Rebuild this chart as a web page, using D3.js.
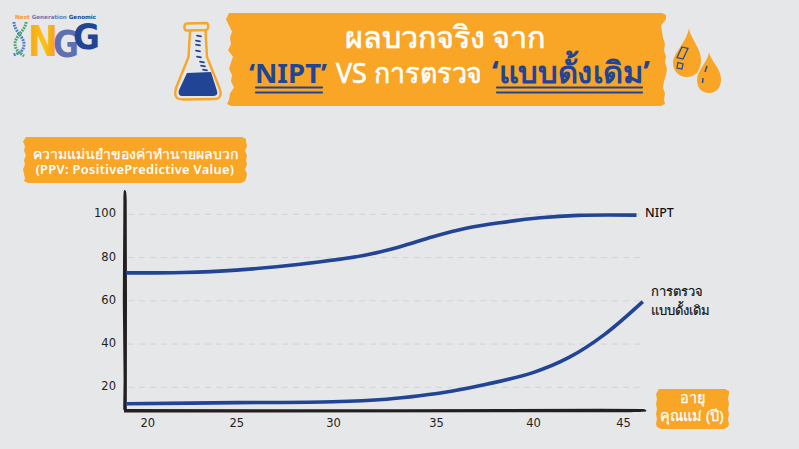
<!DOCTYPE html>
<html><head><meta charset="utf-8">
<script src="https://cdn.jsdelivr.net/npm/d3@7/dist/d3.min.js"></script>
<style>html,body{margin:0;background:#e6e7e9}svg{display:block}text{font-family:"Noto Sans",sans-serif}</style>
</head><body><svg id="c" width="799" height="449" xmlns="http://www.w3.org/2000/svg"></svg>
<script>
const xTicks=[20,25,30,35,40,45];
const yTicks=[20,40,60,80,100];
const agesNipt=[18.8,22,25,28.3,31.6,33.25,34.85,36.55,38.3,40.4,42.5,45.75];
const valuesNipt=[72.9,73.1,74.2,76.9,81.2,85,89.6,93.5,96.1,98.4,99.5,99.6];
const agesTrad=[18.8,25,30,32.6,34.2,35.85,37.6,40,42,44,46.1];
const valuesTrad=[12.4,12.9,13.3,14.5,16.1,18.3,21.4,26.8,33.8,44.6,59.6];
const seriesLabelA="NIPT";
const seriesLabelB=["การตรวจ","แบบดั้งเดิม"];
const yTitle=["ความแม่นยำของค่าทำนายผลบวก","(PPV: PositivePredictive Value)"];
const xTitle=["อายุ","คุณแม่ (ปี)"];
const orange="#f9a526",blue="#214594",ink="#231f20",grid="#d3d4d6";

const svg=d3.select("#c");
svg.append("rect").attr("width",799).attr("height",449).attr("fill","#e6e7e9");
const x=d3.scaleLinear().domain(xTicks).range([147.3,236.3,333,436,533,623]);
const y=d3.scaleLinear().domain([20,100]).range([387.3,214.3]);
const line=d3.line().x(d=>x(d[0])).y(d=>y(d[1])).curve(d3.curveCatmullRom.alpha(.5));

function banner(x0,y0,x1,y1,left,right){
  const h=y1-y0;
  let p=`M${x0+3},${y0}L${x1-4},${y0}L${x1},${y0+2}`;
  right.forEach((o,i)=>{p+=`L${x1+o},${y0+h*(i+1)/(right.length+1)}`});
  p+=`L${x1-1},${y1-2}L${x1-5},${y1}L${x0+5},${y1}L${x0+1},${y1-2}`;
  left.slice().reverse().forEach((o,i)=>{p+=`L${x0+o},${y1-h*(i+1)/(left.length+1)}`});
  return svg.append("path").attr("d",p+"Z").attr("fill",orange);
}
banner(226,13,666,106,[0,3,6,4,5,2,7,5,3,6,5,8,4,3],[0,-5,-4,-3,-1,-2,0,-1,1,0,-2,-3,-1,-2]);
banner(23,137,246,183,[0,2,1,3,1,2,0,1,2],[0,1,-1,1,0,1,-1,1,0]);
banner(656,389,729,429,[0,1,0,1,0,1,0],[0,-1,0,-1,0,-1,0]);

function t(s,xp,yp,size,fill,opt={}){
  const e=svg.append("text").attr("x",xp).attr("y",yp).attr("font-size",size).attr("fill",fill)
   .attr("text-anchor",opt.anchor||"start").attr("font-weight",opt.weight||400).text(s);
  if(opt.thick)e.attr("stroke",fill).attr("stroke-width",opt.thick);
  if(opt.len)e.attr("textLength",opt.len).attr("lengthAdjust","spacingAndGlyphs");
  return e;
}
t("ผลบวกจริง จาก",445,48,30.5,"#fff",{anchor:"middle",thick:.7});
t("‘NIPT’",249,83,27.5,blue,{weight:700,len:78});
t("VS การตรวจ",336,83,27.5,"#fff",{thick:.6,len:146});
t("‘แบบดั้งเดิม’",492,83,30,blue,{weight:700,len:158});
[[256,322],[497,642]].forEach(([a,b])=>{
  [87.5,92.5].forEach(yy=>svg.append("line").attr("x1",a).attr("x2",b).attr("y1",yy).attr("y2",yy)
    .attr("stroke",blue).attr("stroke-width",2.2).attr("stroke-linecap","round"));
});

t(yTitle[0],135,159,14,"#fff",{anchor:"middle",thick:.25});
t(yTitle[1],135,174,12.8,"#fff",{anchor:"middle",weight:600}).attr("letter-spacing",.35);
t(xTitle[0],692,403,14.5,"#fff",{anchor:"middle",thick:.25});
t(xTitle[1],692,421,14.5,"#fff",{anchor:"middle",thick:.25});

svg.append("g").selectAll("line").data(yTicks).join("line")
 .attr("x1",128).attr("x2",640).attr("y1",d=>y(d)).attr("y2",d=>y(d))
 .attr("stroke",grid).attr("stroke-width",1).attr("stroke-dasharray","6 5");

const ay=svg.append("g").attr("transform","translate(125,-1)").call(d3.axisLeft(y).tickValues(yTicks).tickSize(0).tickPadding(9));
const ax=svg.append("g").attr("transform","translate(0,411)").call(d3.axisBottom(x).tickValues(xTicks).tickSize(0).tickPadding(8));
[ay,ax].forEach(a=>{a.select(".domain").remove();a.selectAll("text").attr("fill",ink).attr("font-size",11.5).style("font-family","'DejaVu Sans',sans-serif")});
svg.append("path").attr("fill",ink).attr("d","M124.5,190C126,190 126.5,192 126.7,200L127,300L126.8,409L124.8,412L123.2,409L123.6,380L122.8,300L123.4,200C123.5,194 123.6,190 124.5,190Z");
svg.append("path").attr("fill",ink).attr("d","M124,409L400,409.3L600,408.8L643,409C646,409.6 647,410.5 646,411.4C640,412.4 600,412.4 500,412.2L124,412.6Z");

[[agesNipt,valuesNipt],[agesTrad,valuesTrad]].forEach(([a,v])=>{
  svg.append("path").datum(a.map((d,i)=>[d,v[i]])).attr("d",line).attr("fill","none")
   .attr("stroke",blue).attr("stroke-width",3.6);
});
t(seriesLabelA,645,217,12.5,"#111",{weight:500});
t(seriesLabelB[0],651,296,13,"#111",{thick:.2});
t(seriesLabelB[1],651,315,13,"#111",{thick:.2});

const flask=svg.append("g");
flask.append("path").attr("d","M187,23.5L206,23C209,23 209,29.5 206,30L187,30.5C183.5,30.5 183.5,23.5 187,23.5Z").attr("fill","none").attr("stroke",orange).attr("stroke-width",2.4);
flask.append("path").attr("d","M190,31L188.5,57L176,88C174,96 176,99.5 183,99.5L214,99C221,99 222,94 219,87L207,57L205.5,31").attr("fill","none").attr("stroke",orange).attr("stroke-width",2.4).attr("stroke-linejoin","round");
flask.append("path").attr("d","M187,73L211,72L217,91C218,95 216,96 212,96L183,96C179,96 178,94 179,90Z").attr("fill",blue);
[[199,36],[198,41],[198,45],[198,51],[199,57],[202,62],[203,66],[205,70]].forEach(p=>{
  flask.append("line").attr("x1",p[0]-2).attr("x2",p[0]+2).attr("y1",p[1]-.3).attr("y2",p[1]+.4).attr("stroke",blue).attr("stroke-width",1.7).attr("stroke-linecap","round");
});

svg.append("path").attr("fill",orange).attr("d","M689,28C690,38 701,48 701,60C701,71 695,77 687,77C679,77 673,71 673,63C673,53 687,42 689,28Z");
svg.append("path").attr("fill",orange).attr("d","M709,52C710,60 721,68 721,79C721,88 716,93 709,93C702,93 697,88 697,80C697,70 708,62 709,52Z");
svg.append("path").attr("fill","none").attr("stroke",blue).attr("stroke-width",1.2).attr("d","M682,47L688,48.5L683,59L677,57.5ZM678,62.5L683,64L682,69L677,68Z");
svg.append("path").attr("fill","none").attr("stroke",blue).attr("stroke-width",1.4).attr("d","M707,66L705,72M703,78L702.5,83");

const defs=svg.append("defs");
const gr=defs.append("linearGradient").attr("id","ng").attr("x1",0).attr("x2",1).attr("y1",0).attr("y2",0);
gr.append("stop").attr("offset","0").attr("stop-color","#f7a11f");
gr.append("stop").attr("offset",".5").attr("stop-color","#fcc30f");
gr.append("stop").attr("offset","1").attr("stop-color","#f59a23");
const logo=svg.append("g");
const head=svg.append("text").attr("x",15).attr("y",19).attr("font-size",5.6).attr("font-weight",700).style("font-family","'DejaVu Sans',sans-serif");
[["Next ","#f39a2e"],["Generation ","#6a78b5"],["Genomic","#214594"]].forEach(d=>head.append("tspan").attr("fill",d[1]).text(d[0]));
function big(s,xp,yp,size,fill,len){return svg.append("text").attr("x",xp).attr("y",yp).attr("font-size",size).attr("font-weight",700).attr("fill",fill).attr("textLength",len).attr("lengthAdjust","spacingAndGlyphs").style("font-family","'DejaVu Sans',sans-serif").text(s);}
big("N",28,56,42,"url(#ng)",30);
big("G",53,57,37,"#5f6fb0",26);
big("G",73,49,36,blue,27);
logo.raise();
logo.append("path").attr("fill","none").attr("stroke","#4d7fc4").attr("stroke-width",3).attr("stroke-dasharray","1.8 1").attr("d","M14,22C14,31 24,37 24,44C24,50 21,53 13,55");
logo.append("path").attr("fill","none").attr("stroke","#47a96b").attr("stroke-width",3).attr("stroke-dasharray","1.8 1").attr("d","M26,22C26,30 15,36 15,44C15,50 20,53 24,56");
</script></body></html>
